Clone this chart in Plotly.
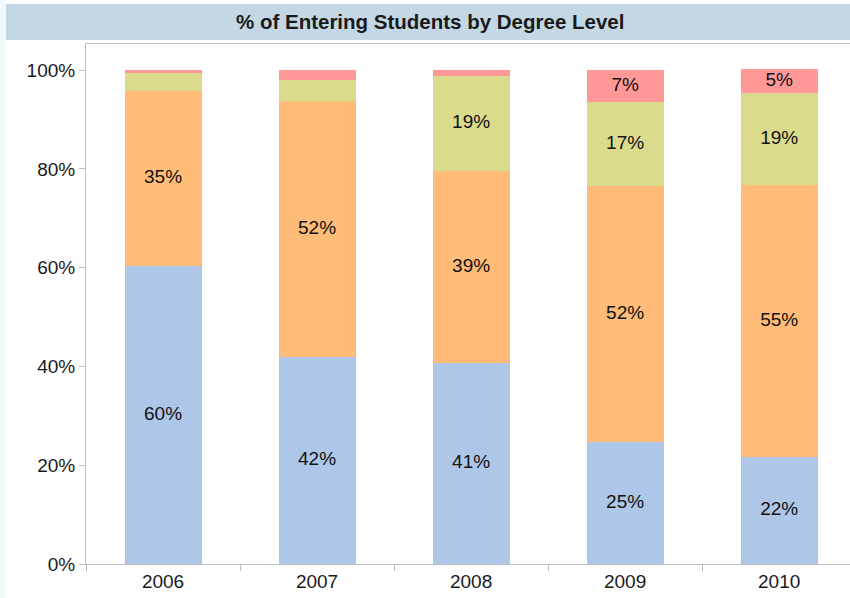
import plotly.graph_objects as go

years = ["2006", "2007", "2008", "2009", "2010"]
level_a = [60.4, 41.9, 40.7, 24.7, 21.6]   # blue (bottom)
level_b = [35.4, 51.9, 38.9, 51.9, 55.2]   # orange
level_c = [3.8, 4.2, 19.2, 16.9, 18.6]     # green
level_d = [0.4, 2.0, 1.2, 6.6, 4.8]        # pink (top)
y_ticks = [0, 20, 40, 60, 80, 100]
y_tick_labels = ["0%", "20%", "40%", "60%", "80%", "100%"]
title_text = "% of Entering Students by Degree Level"

series = [
    (level_a, "#aec7e8"),
    (level_b, "#ffbb78"),
    (level_c, "#dbdb8d"),
    (level_d, "#ff9896"),
]

FONT = "Liberation Sans, Arial, sans-serif"

fig = go.Figure()
base = [0.0] * len(years)
lab_x, lab_y, lab_t = [], [], []
for vals, color in series:
    fig.add_trace(go.Bar(
        x=years, y=vals,
        marker=dict(color=color, line=dict(width=0)),
        hoverinfo="skip",
        showlegend=False,
    ))
    for i, v in enumerate(vals):
        if v >= 4.5:
            lab_x.append(years[i])
            lab_y.append(base[i] + v / 2)
            lab_t.append(f"{round(v)}%")
        base[i] += v

fig.add_trace(go.Scatter(
    x=lab_x, y=lab_y, text=lab_t, mode="text",
    textposition="middle center",
    textfont=dict(family=FONT, size=19, color="#111111"),
    hoverinfo="skip", showlegend=False, cliponaxis=False,
))

W, H = 850, 598
L, R, T, B = 86, 0, 44, 34
pw, ph = W - L - R, H - T - B

def px(x):
    return (x - L) / pw

def py(y):
    return (H - B - y) / ph

shapes = [
    dict(type="rect", xref="paper", yref="paper", x0=px(0), x1=px(6), y0=py(H), y1=py(0),
         fillcolor="#eefafc", line=dict(width=0), layer="below"),
    dict(type="rect", xref="paper", yref="paper", x0=px(6), x1=px(W), y0=py(40), y1=py(4),
         fillcolor="#c3d8e4", line=dict(width=0), layer="below"),
]

fig.update_layout(
    width=W, height=H,
    margin=dict(l=L, r=R, t=T, b=B),
    paper_bgcolor="white", plot_bgcolor="white",
    barmode="stack", bargap=0.5,
    font=dict(family=FONT, size=19, color="#1a1a1a"),
    shapes=shapes,
    annotations=[dict(text="<b>" + title_text + "</b>", xref="paper", yref="paper",
                      x=px(430), y=py(22), xanchor="center", yanchor="middle",
                      showarrow=False, font=dict(family=FONT, size=20.5, color="#1a1a1a"))],
)
fig.update_xaxes(
    type="category", range=[-0.5, 4.46],
    showline=True, linecolor="#bfbfbf", linewidth=1, mirror=True,
    ticks="outside", tickson="boundaries", ticklen=6, tickcolor="#bfbfbf",
    showgrid=False, tickfont=dict(size=19, color="#1a1a1a"), fixedrange=True,
)
fig.update_yaxes(
    range=[0, 105.3], tickvals=y_ticks, ticktext=y_tick_labels,
    showline=True, linecolor="#bfbfbf", linewidth=1,
    ticks="outside", ticklen=6, tickcolor="#bfbfbf",
    showgrid=False, zeroline=False, tickfont=dict(size=19, color="#1a1a1a"),
    fixedrange=True,
)

fig.write_html(
    "out.html",
    config={"displayModeBar": False},
    post_script=(
        "document.documentElement.style.overflow='hidden';"
        "document.body.style.margin='0';document.body.style.padding='0';"
        "document.body.style.overflow='hidden';"
    ),
)
